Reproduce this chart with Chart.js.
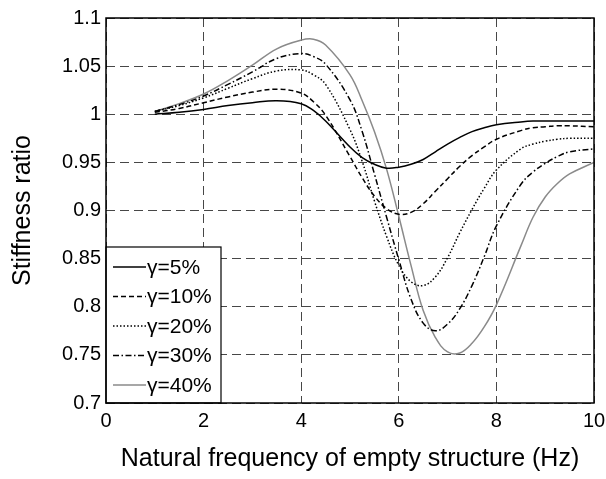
<!DOCTYPE html>
<html>
<head>
<meta charset="utf-8">
<script src="https://cdn.jsdelivr.net/npm/chart.js@4/dist/chart.umd.min.js"></script>
<style>
  html, body { margin: 0; padding: 0; background: #fff; }
  #wrap { width: 606px; height: 479px; }
</style>
</head>
<body>
<div id="wrap"><canvas id="grafico" width="606" height="479"></canvas></div>
<script>
// frequencia natural da estrutura vazia (Hz)
const freq = [1, 1.5, 2, 2.5, 3, 3.5, 4, 4.25, 4.5, 5, 5.25, 5.5, 5.75, 6, 6.25, 6.5, 6.75, 7, 7.25, 7.5, 7.75, 8, 8.5, 8.75, 9, 9.25, 9.5, 10];

// razao de rigidez para cada gamma
const gama5  = [1.000, 1.002, 1.005, 1.009, 1.012, 1.014, 1.011, 1.004, 0.993, 0.966, 0.955, 0.948, 0.944, 0.945, 0.948, 0.953, 0.961, 0.969, 0.976, 0.982, 0.986, 0.989, 0.992, 0.993, 0.993, 0.993, 0.993, 0.993];
const gama10 = [1.002, 1.006, 1.012, 1.018, 1.023, 1.026, 1.022, 1.013, 0.999, 0.956, 0.934, 0.915, 0.902, 0.896, 0.898, 0.907, 0.920, 0.933, 0.946, 0.957, 0.966, 0.974, 0.983, 0.986, 0.987, 0.988, 0.988, 0.987];
const gama20 = [1.003, 1.009, 1.017, 1.027, 1.037, 1.045, 1.046, 1.041, 1.031, 0.984, 0.951, 0.910, 0.873, 0.843, 0.826, 0.822, 0.831, 0.851, 0.877, 0.901, 0.923, 0.942, 0.964, 0.969, 0.972, 0.974, 0.975, 0.975];
const gama30 = [1.003, 1.010, 1.019, 1.031, 1.044, 1.058, 1.063, 1.060, 1.052, 1.015, 0.982, 0.938, 0.893, 0.849, 0.808, 0.783, 0.775, 0.782, 0.798, 0.822, 0.852, 0.884, 0.927, 0.940, 0.949, 0.956, 0.961, 0.964];
const gama40 = [1.003, 1.011, 1.021, 1.035, 1.051, 1.068, 1.077, 1.078, 1.072, 1.041, 1.014, 0.982, 0.943, 0.894, 0.843, 0.796, 0.768, 0.753, 0.752, 0.762, 0.779, 0.802, 0.863, 0.893, 0.914, 0.928, 0.938, 0.950];

const legendas = ["\u03b3=5%", "\u03b3=10%", "\u03b3=20%", "\u03b3=30%", "\u03b3=40%"];

// rotulos dos eixos
const ticksX = [0, 2, 4, 6, 8, 10];
const ticksY = [0.7, 0.75, 0.8, 0.85, 0.9, 0.95, 1, 1.05, 1.1];

const fonte = "'Liberation Sans', Arial, Helvetica, sans-serif";

function pontos(valores) {
  return freq.map((f, i) => ({ x: f, y: valores[i] }));
}

const estilos = [
  { cor: "#000", dash: [] },
  { cor: "#000", dash: [5, 3] },
  { cor: "#000", dash: [1.5, 2] },
  { cor: "#000", dash: [6, 2.5, 1.5, 2.5] },
  { cor: "#8a8a8a", dash: [] },
];

const series = [gama5, gama10, gama20, gama30, gama40];

// legenda dentro do grafico + moldura
const molduraPlugin = {
  id: "moldura",
  afterDraw(chart) {
    const { ctx, chartArea: a } = chart;
    ctx.save();

    // caixa da legenda
    const bx = a.left, bw = 115, bh = 156, by = a.bottom - bh;
    ctx.fillStyle = "#fff";
    ctx.fillRect(bx, by, bw, bh);
    ctx.strokeStyle = "#000";
    ctx.lineWidth = 1.2;
    ctx.strokeRect(bx, by, bw, bh);

    ctx.font = "21px " + fonte;
    ctx.textBaseline = "middle";
    ctx.textAlign = "left";
    legendas.forEach((txt, i) => {
      const y = by + 20 + i * 29.5;
      ctx.beginPath();
      ctx.setLineDash(estilos[i].dash);
      ctx.strokeStyle = estilos[i].cor;
      ctx.lineWidth = 1.5;
      ctx.moveTo(bx + 7, y);
      ctx.lineTo(bx + 40, y);
      ctx.stroke();
      ctx.setLineDash([]);
      ctx.fillStyle = "#000";
      ctx.fillText(txt, bx + 41, y + 1);
    });

    // moldura do grafico
    ctx.setLineDash([]);
    ctx.strokeStyle = "#000";
    ctx.lineWidth = 1.5;
    ctx.strokeRect(a.left, a.top, a.right - a.left, a.bottom - a.top);
    ctx.restore();
  }
};

const ctx = document.getElementById("grafico").getContext("2d");

new Chart(ctx, {
  type: "line",
  data: {
    datasets: series.map((s, i) => ({
      label: legendas[i],
      data: pontos(s),
      borderColor: estilos[i].cor,
      borderDash: estilos[i].dash,
      borderWidth: 1.5,
      pointRadius: 0,
      fill: false,
      tension: 0.4,
    }))
  },
  options: {
    responsive: false,
    animation: false,
    layout: { padding: { top: 18, right: 12, left: 0, bottom: 0 } },
    plugins: {
      legend: { display: false },
      tooltip: { enabled: false },
    },
    scales: {
      x: {
        type: "linear",
        min: 0,
        max: 10,
        afterFit: (s) => { s.height = 76; s.paddingLeft = 0; s.paddingRight = 0; },
        afterBuildTicks: (s) => { s.ticks = ticksX.map(v => ({ value: v })); },
        ticks: {
          autoSkip: false,
          maxRotation: 0,
          padding: 6,
          color: "#000",
          font: { family: fonte, size: 20 },
          callback: (v) => String(v),
        },
        grid: {
          color: "rgba(0,0,0,0.72)",
          lineWidth: 1,
          drawTicks: false,
        },
        border: { display: false, dash: [9, 5] },
        title: {
          display: true,
          text: "Natural frequency of empty structure (Hz)",
          color: "#000",
          font: { family: fonte, size: 25 },
          padding: { bottom: 5, top: 0 },
        },
      },
      y: {
        min: 0.7,
        max: 1.1,
        afterFit: (s) => { s.width = 106; s.paddingTop = 0; s.paddingBottom = 0; },
        afterBuildTicks: (s) => { s.ticks = ticksY.map(v => ({ value: v })); },
        ticks: {
          autoSkip: false,
          padding: 5,
          color: "#000",
          font: { family: fonte, size: 20 },
          callback: (v) => String(v),
        },
        grid: {
          color: "rgba(0,0,0,0.72)",
          lineWidth: 1,
          drawTicks: false,
        },
        border: { display: false, dash: [9, 5] },
        title: {
          display: true,
          text: "Stiffness ratio",
          color: "#000",
          font: { family: fonte, size: 25 },
          padding: { top: 8, bottom: 0 },
        },
      },
    },
  },
  plugins: [molduraPlugin],
});
</script>
</body>
</html>
